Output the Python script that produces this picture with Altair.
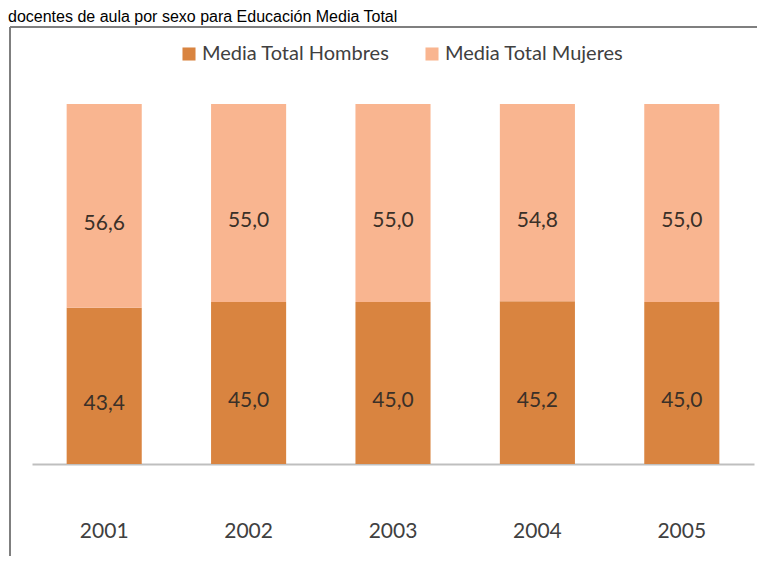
import altair as alt
import pandas as pd

years = ["2001", "2002", "2003", "2004", "2005"]
hombres = [43.4, 45.0, 45.0, 45.2, 45.0]
mujeres = [56.6, 55.0, 55.0, 54.8, 55.0]
series = ["Media Total Hombres", "Media Total Mujeres"]
colors = ["#D98440", "#F9B590"]
title_text = "docentes de aula por sexo para Educación Media Total"

rows = []
for y, h, m in zip(years, hombres, mujeres):
    rows.append({"year": y, "serie": series[0], "value": h, "ord": 0})
    rows.append({"year": y, "serie": series[1], "value": m, "ord": 1})
df = pd.DataFrame(rows)

FONT = "Lato"
xscale = alt.Scale(paddingInner=0.48, paddingOuter=0.24)

x_enc = alt.X(
    "year:N",
    title=None,
    scale=xscale,
    axis=alt.Axis(
        labelAngle=0, labelFont=FONT, labelFontSize=21, labelColor="#404040",
        labelPadding=56, ticks=False, domainColor="#BFBFBF", domainWidth=2,
        grid=False,
    ),
)

base = alt.Chart(df).transform_stack(
    stack="value", groupby=["year"], as_=["y0", "y1"],
    sort=[alt.SortField("ord", order="ascending")],
).transform_calculate(
    mid="(datum.y0 + datum.y1) / 2",
    lbl="replace(format(datum.value, '.1f'), '.', ',')",
)

yscale = alt.Scale(domain=[0, 100], nice=False)

bars = base.mark_bar().encode(
    x=x_enc,
    y=alt.Y("y0:Q", scale=yscale, axis=None),
    y2="y1:Q",
    color=alt.Color(
        "serie:N",
        scale=alt.Scale(domain=series, range=colors),
        legend=alt.Legend(
            title=None, orient="none", direction="horizontal",
            legendX=147, legendY=-60, symbolType="square", symbolSize=170,
            symbolStrokeWidth=0, labelFont=FONT, labelFontSize=20,
            labelColor="#404040", columnPadding=32, labelLimit=400,
            labelOffset=3,
        ),
    ),
)

labels = base.mark_text(font=FONT, fontSize=21, color="#3A3028", dy=18).encode(
    x=alt.X("year:N", scale=xscale),
    y=alt.Y("mid:Q", scale=yscale),
    text="lbl:N",
)

tdf = pd.DataFrame({"t": [title_text]})
title = alt.Chart(tdf).mark_text(
    font="Liberation Sans", fontSize=16, align="left", baseline="alphabetic",
    color="#000000",
).encode(text="t:N", x=alt.value(-24), y=alt.value(-82))

fdf = pd.DataFrame({"k": [0]})
frame_left = alt.Chart(fdf).mark_rule(color="#7F7F7F", strokeWidth=2).encode(
    x=alt.value(-22), y=alt.value(-77), y2=alt.value(480))
frame_top = alt.Chart(fdf).mark_rule(color="#7F7F7F", strokeWidth=2).encode(
    x=alt.value(-22), x2=alt.value(740), y=alt.value(-77))

chart = alt.layer(
    frame_left, frame_top, bars, labels, title
).properties(
    width=722, height=360,
    autosize=alt.AutoSizeParams(type="none"),
    padding={"left": 24, "top": 96, "right": 3, "bottom": 92},
    background="white",
).configure_view(stroke=None)

chart.save("out.html", embed_options={"renderer": "svg", "actions": False})
